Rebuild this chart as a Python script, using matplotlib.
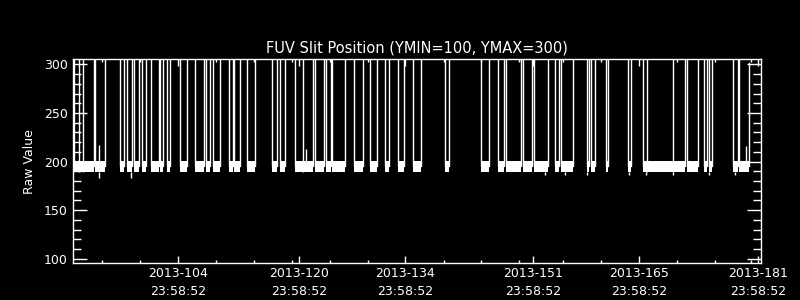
import matplotlib
matplotlib.use("Agg")
import matplotlib.pyplot as plt
import numpy as np

# day of year 2013 (tick labels are at 23:58:52 of that day)
low_start = [90.2, 93.03, 96.30, 97.27, 98.16, 99.22, 100.45, 101.61, 102.58, 104.26,
             106.29, 107.71, 108.60, 110.80, 111.42, 113.19, 116.46, 117.52, 119.55, 122.13,
             123.62, 124.42, 127.34, 129.46, 131.49, 133.17, 135.20, 139.45, 144.22, 146.44,
             147.50, 149.79, 151.21, 154.04, 154.75, 158.20, 158.81, 160.76, 163.68, 165.71,
             171.54, 173.76, 174.38, 177.64, 178.44]
low_end = [92.86, 94.35, 96.87, 97.85, 98.86, 99.75, 101.44, 102.05, 102.93, 105.15,
           107.44, 108.24, 109.57, 111.25, 112.22, 114.17, 117.17, 118.15, 121.94, 123.36,
           124.25, 126.18, 128.57, 130.35, 132.02, 133.97, 136.18, 139.90, 145.20, 147.23,
           149.45, 150.95, 153.07, 154.57, 156.34, 158.47, 159.34, 161.02, 164.11, 171.20,
           172.96, 174.11, 174.82, 178.27, 179.69]
band_lo = 189.5
band_hi = 200.5
high_value = 330.0      # slit out of range, above the plot
last_value = 301.0

jump_days = [90.83, 91.36, 120.53, 166.16, 169.61]

up_days = [93.48, 120.97, 179.37]
up_vals = [217, 212.5, 216]
down_days = [93.56, 97.76, 152.71, 155.28, 158.20, 163.85, 166.06, 169.61, 174.46, 177.87]
down_vals = [183, 183, 186, 186, 186, 186.5, 186.5, 186, 186.5, 186.5]

tick_days = [104, 120.05, 134.1, 151.07, 165.13, 180.9]
tick_labels = ["2013-104\n23:58:52", "2013-120\n23:58:52", "2013-134\n23:58:52",
               "2013-151\n23:58:52", "2013-165\n23:58:52", "2013-181\n23:58:52"]
minor_days = [93.92, 98.96, 109.04, 114.08, 119.12, 124.15, 129.19, 139.27, 144.18,
              149.22, 155.06, 160.10, 170.18, 175.22, 179.99]

# build the raw trace: low periods with edges going up out of range
xs, ys = [], []
for s, e in zip(low_start, low_end):
    xs += [s, s, e, e]
    ys += [high_value, (band_lo + band_hi) / 2, (band_lo + band_hi) / 2, high_value]
ys[-1] = last_value

fig = plt.figure(figsize=(8, 3), dpi=100, facecolor="black")
ax = fig.add_axes([0.0909, 0.1223, 0.8602, 0.6797], facecolor="black")

ax.plot(xs, ys, color="white", lw=1.0)
for s, e in zip(low_start, low_end):
    ax.fill_between([s, e], band_lo, band_hi, color="white", lw=0)
ax.vlines(jump_days, band_lo, high_value, color="white", lw=1.0)
ax.vlines(up_days, band_hi, up_vals, color="white", lw=1.0)
ax.vlines(down_days, down_vals, band_lo, color="white", lw=1.0)

ax.set_xlim(90.03, 181.28)
ax.set_ylim(95.3, 305.1)

ax.set_xticks(tick_days)
ax.set_xticklabels(tick_labels, linespacing=1.45)
ax.set_xticks(minor_days, minor=True)
ax.set_yticks([100, 150, 200, 250, 300])
ax.set_yticks(np.arange(100, 301, 10), minor=True)

ax.tick_params(axis="x", which="major", direction="in", length=4.8, width=1,
               top=True, bottom=True, colors="white", labelsize=9, pad=3)
ax.tick_params(axis="x", which="minor", direction="in", length=2.4, width=1,
               top=True, bottom=True, colors="white")
ax.tick_params(axis="y", which="major", direction="in", length=10.3, width=1,
               left=True, right=True, colors="white", labelsize=9, pad=3.5)
ax.tick_params(axis="y", which="minor", direction="in", length=5.5, width=1,
               left=True, right=True, colors="white")
for sp in ax.spines.values():
    sp.set_color("white")
    sp.set_linewidth(1)

ax.set_title("FUV Slit Position (YMIN=100, YMAX=300)", color="white", fontsize=10.5, pad=5)
ax.set_ylabel("Raw Value", color="white", fontsize=9, labelpad=6)

fig.savefig("out.png", dpi=100, facecolor="black")
